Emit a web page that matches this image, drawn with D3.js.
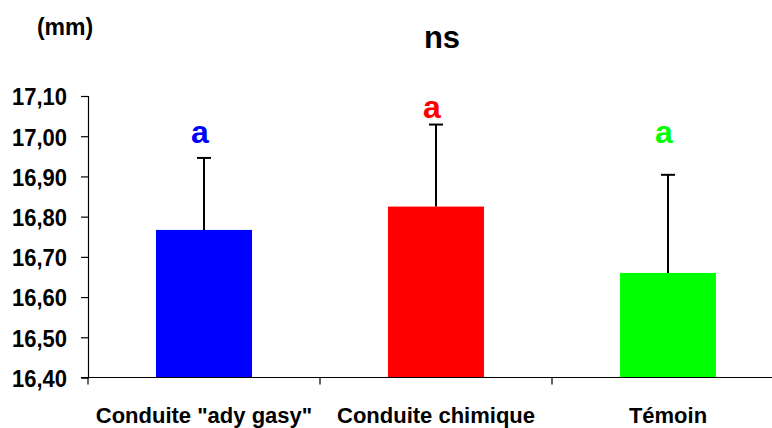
<!DOCTYPE html>
<html>
<head>
<meta charset="utf-8">
<script src="https://cdn.jsdelivr.net/npm/d3@7/dist/d3.min.js"></script>
<style>
  html, body { margin: 0; padding: 0; background: #fff; }
  svg { display: block; font-family: "Liberation Sans", Arial, sans-serif; font-weight: bold; }
</style>
</head>
<body>
<svg id="chart" width="772" height="428"></svg>
<script>
// Mean length (mm) per treatment, with standard deviation and significance letter
const categories = ["Conduite \"ady gasy\"", "Conduite chimique", "Témoin"];
const means      = [16.767, 16.825, 16.66];
const sds        = [0.179, 0.204, 0.244];
const letters    = ["a", "a", "a"];
const letterAt   = [16.983, 17.045, 16.983];   // baseline of each letter, in mm
const colors     = ["#0000ff", "#ff0000", "#00ff00"];
const yTicks     = [16.4, 16.5, 16.6, 16.7, 16.8, 16.9, 17.0, 17.1];

const svg = d3.select("#chart");

const plotLeft = 88, plotRight = 784, plotTop = 96, plotBottom = 377.5;

const x = d3.scaleBand().domain(categories).range([plotLeft, plotRight]).padding(0);
const y = d3.scaleLinear().domain([16.4, 17.1]).range([plotBottom, plotTop]);
const barW = x.bandwidth() * 0.414;

const fmt = d => d3.format(".2f")(d).replace(".", ",");

// Y axis
const yAxis = svg.append("g")
  .attr("transform", `translate(${plotLeft},0)`)
  .call(d3.axisLeft(y).tickValues(yTicks).tickFormat(fmt).tickSize(7).tickPadding(14));
yAxis.select(".domain").attr("stroke", "#000").attr("stroke-width", 1.2);
yAxis.selectAll(".tick line").attr("stroke", "#000").attr("stroke-width", 1.2);
yAxis.selectAll(".tick text")
  .attr("fill", "#000")
  .attr("font-size", 22)
  .attr("font-family", "Liberation Sans, Arial, sans-serif")
  .attr("font-weight", "bold")
  .attr("dy", "0.37em")
  .attr("transform", "scale(1,1.08)");

// Bars
svg.append("g").selectAll("rect")
  .data(categories)
  .join("rect")
  .attr("x", (d, i) => x(d) + x.bandwidth() / 2 - barW / 2)
  .attr("y", (d, i) => y(means[i]))
  .attr("width", barW)
  .attr("height", (d, i) => y(16.4) - y(means[i]))
  .attr("fill", (d, i) => colors[i]);

// X axis line with category boundary ticks
svg.append("line")
  .attr("x1", plotLeft - 7).attr("x2", 772)
  .attr("y1", y(16.4)).attr("y2", y(16.4))
  .attr("stroke", "#000").attr("stroke-width", 1.2);
const bounds = categories.map(c => x(c)).concat([x(categories[categories.length - 1]) + x.bandwidth()]);
svg.append("g").selectAll("line")
  .data(bounds)
  .join("line")
  .attr("x1", d => d).attr("x2", d => d)
  .attr("y1", y(16.4)).attr("y2", y(16.4) + 7)
  .attr("stroke", "#000").attr("stroke-width", 1.2);

// Category labels
svg.append("g").selectAll("text")
  .data(categories)
  .join("text")
  .attr("x", d => x(d) + x.bandwidth() / 2)
  .attr("y", 423)
  .attr("text-anchor", "middle")
  .attr("font-size", 22)
  .attr("fill", "#000")
  .text(d => d);

// Error bars (upper only)
const err = svg.append("g").attr("stroke", "#000").attr("stroke-width", 2);
categories.forEach((c, i) => {
  const cx = x(c) + x.bandwidth() / 2;
  err.append("line")
    .attr("x1", cx).attr("x2", cx)
    .attr("y1", y(means[i])).attr("y2", y(means[i] + sds[i]));
  err.append("line")
    .attr("x1", cx - 7).attr("x2", cx + 7)
    .attr("y1", y(means[i] + sds[i])).attr("y2", y(means[i] + sds[i]));
});

// Significance letters
svg.append("g").selectAll("text")
  .data(categories)
  .join("text")
  .attr("x", d => x(d) + x.bandwidth() / 2 - 4)
  .attr("y", (d, i) => y(letterAt[i]))
  .attr("text-anchor", "middle")
  .attr("font-size", 32)
  .attr("fill", (d, i) => colors[i])
  .text((d, i) => letters[i]);

// Title and unit
svg.append("text")
  .attr("x", 442).attr("y", 48)
  .attr("text-anchor", "middle")
  .attr("font-size", 31)
  .attr("fill", "#000")
  .text("ns");

svg.append("text")
  .attr("x", 65).attr("y", 35)
  .attr("text-anchor", "middle")
  .attr("font-size", 23)
  .attr("fill", "#000")
  .text("(mm)");
</script>
</body>
</html>
